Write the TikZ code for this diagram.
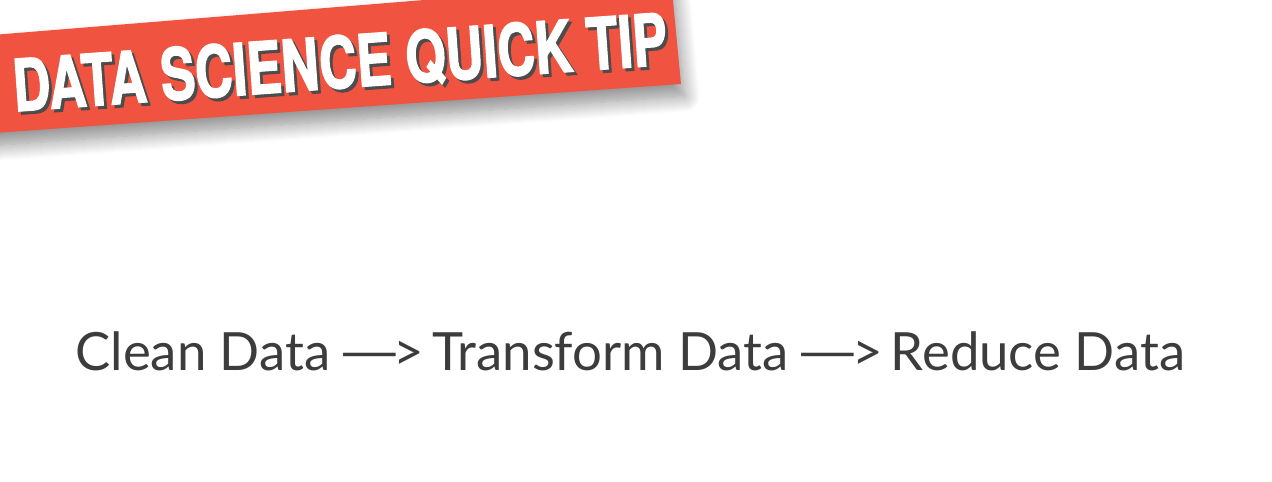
\documentclass[tikz,border=0pt]{standalone}
\usepackage{fontspec}
\setmainfont{Lato}
\newfontfamily\tipfont[FakeStretch=0.72, FakeBold=1.6]{TeX Gyre Heros}
\usetikzlibrary{positioning,chains,shadows.blur}
\definecolor{tipred}{HTML}{F05440}
\definecolor{inkgray}{HTML}{3C3C3C}
\newcommand\longto{\scalebox{1.5}[1]{—}\kern-0.14em>}
\tikzset{
    banner/.style = {
        fill = tipred,
        blur shadow = {shadow xshift=2pt, shadow yshift=-7pt, shadow blur radius=9pt, shadow blur steps=16, shadow opacity=45},
        },
    tip text/.style = {
        font = \tipfont\bfseries\fontsize{41}{41}\selectfont,
        text = white,
        inner sep = 0pt,
        rotate = 4.1,
        },
    tip shadow/.style = {
        tip text,
        text = black!70,
        },
    step text/.style = {
        font = \fontsize{30}{30}\selectfont,
        text = inkgray,
        inner sep = 0pt,
        on chain,
        },
}

\begin{document}
\begin{tikzpicture}[
            x=0.02cm, y=0.02cm,
            start chain = going {base right=of \tikzchainprevious},
            node distance = 0.42em
            ]
            \useasboundingbox (0,0) rectangle (1272,-481);

            % banner
            \path[banner] (-20,-134) -- (-20,-36) -- (671,20) -- (681,-84) -- cycle;
            \node [tip shadow] (tipshade) at (343,-66) {DATA SCIENCE QUICK TIP};
            \node [tip text] (tip) at (340,-63) {DATA SCIENCE QUICK TIP};

            % pipeline
            \node [step text, anchor=base west] (clean) at (75,-370) {Clean Data};
            \node [step text] (toA) {\longto};
            \node [step text] (transform) {Transform Data};
            \node [step text] (toB) {\longto};
            \node [step text] (reduce) {Reduce Data};
\end{tikzpicture}
\end{document}
